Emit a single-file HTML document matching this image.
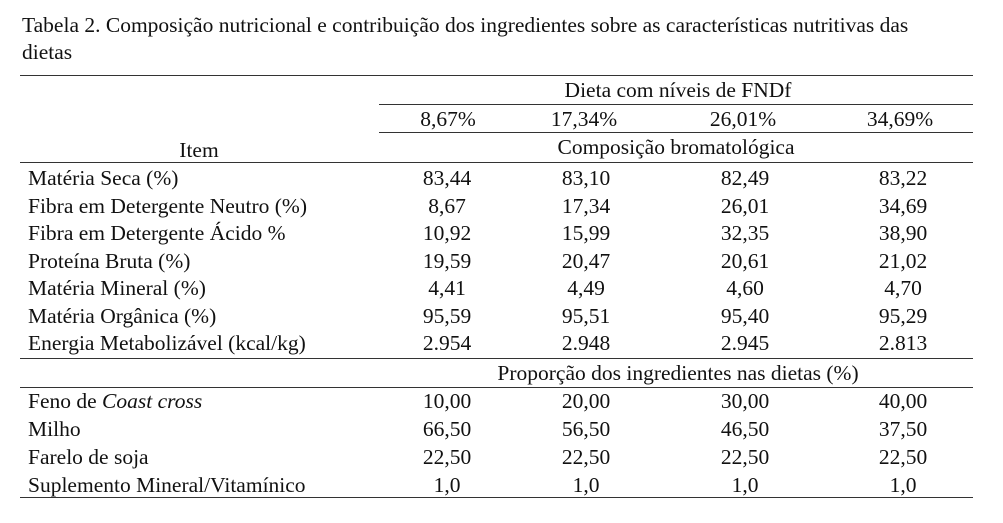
<!DOCTYPE html>
<html><head><meta charset="utf-8"><style>
body{margin:0;width:1003px;height:523px;background:#fff;position:relative;font-family:"Liberation Serif",serif;font-size:21.5px;color:#111;overflow:hidden}
.t{position:absolute;white-space:nowrap;line-height:24px}
.c{position:absolute;white-space:nowrap;line-height:24px;transform:translateX(-50%)}
.l{position:absolute;height:1px;background:#333}
</style></head><body>
<div class="t" style="left:22px;top:13px">Tabela 2. Composição nutricional e contribuição dos ingredientes sobre as características nutritivas das</div>
<div class="t" style="left:22px;top:40px">dietas</div>
<div class="l" style="left:20px;width:953px;top:75px"></div>
<div class="c" style="left:678px;top:78px">Dieta com níveis de FNDf</div>
<div class="l" style="left:379px;width:594px;top:104px"></div>
<div class="c" style="left:448px;top:107px">8,67%</div>
<div class="c" style="left:584px;top:107px">17,34%</div>
<div class="c" style="left:743px;top:107px">26,01%</div>
<div class="c" style="left:900px;top:107px">34,69%</div>
<div class="l" style="left:379px;width:594px;top:132px"></div>
<div class="c" style="left:199px;top:138px">Item</div>
<div class="c" style="left:676px;top:135px">Composição bromatológica</div>
<div class="l" style="left:20px;width:953px;top:162px"></div>
<div id="rows"></div>
<div class="l" style="left:20px;width:953px;top:358px"></div>
<div class="c" style="left:678px;top:361px">Proporção dos ingredientes nas dietas (%)</div>
<div class="l" style="left:20px;width:953px;top:387px"></div>
<div class="l" style="left:20px;width:953px;top:497px"></div>
<script>
var rows=[
["Matéria Seca (%)","83,44","83,10","82,49","83,22",178],
["Fibra em Detergente Neutro (%)","8,67","17,34","26,01","34,69",206],
["Fibra em Detergente Ácido %","10,92","15,99","32,35","38,90",233],
["Proteína Bruta (%)","19,59","20,47","20,61","21,02",261],
["Matéria Mineral (%)","4,41","4,49","4,60","4,70",288],
["Matéria Orgânica (%)","95,59","95,51","95,40","95,29",316],
["Energia Metabolizável (kcal/kg)","2.954","2.948","2.945","2.813",343],
["Feno de <i>Coast cross</i>","10,00","20,00","30,00","40,00",401],
["Milho","66,50","56,50","46,50","37,50",429],
["Farelo de soja","22,50","22,50","22,50","22,50",457],
["Suplemento Mineral/Vitamínico","1,0","1,0","1,0","1,0",485]];
var xs=[447,586,745,903],h="";
rows.forEach(function(r){var y=r[5]-12;
h+='<div class="t" style="left:28px;top:'+y+'px">'+r[0]+'</div>';
for(var i=0;i<4;i++)h+='<div class="c" style="left:'+xs[i]+'px;top:'+y+'px">'+r[i+1]+'</div>';});
document.getElementById("rows").innerHTML=h;
</script>
</body></html>
